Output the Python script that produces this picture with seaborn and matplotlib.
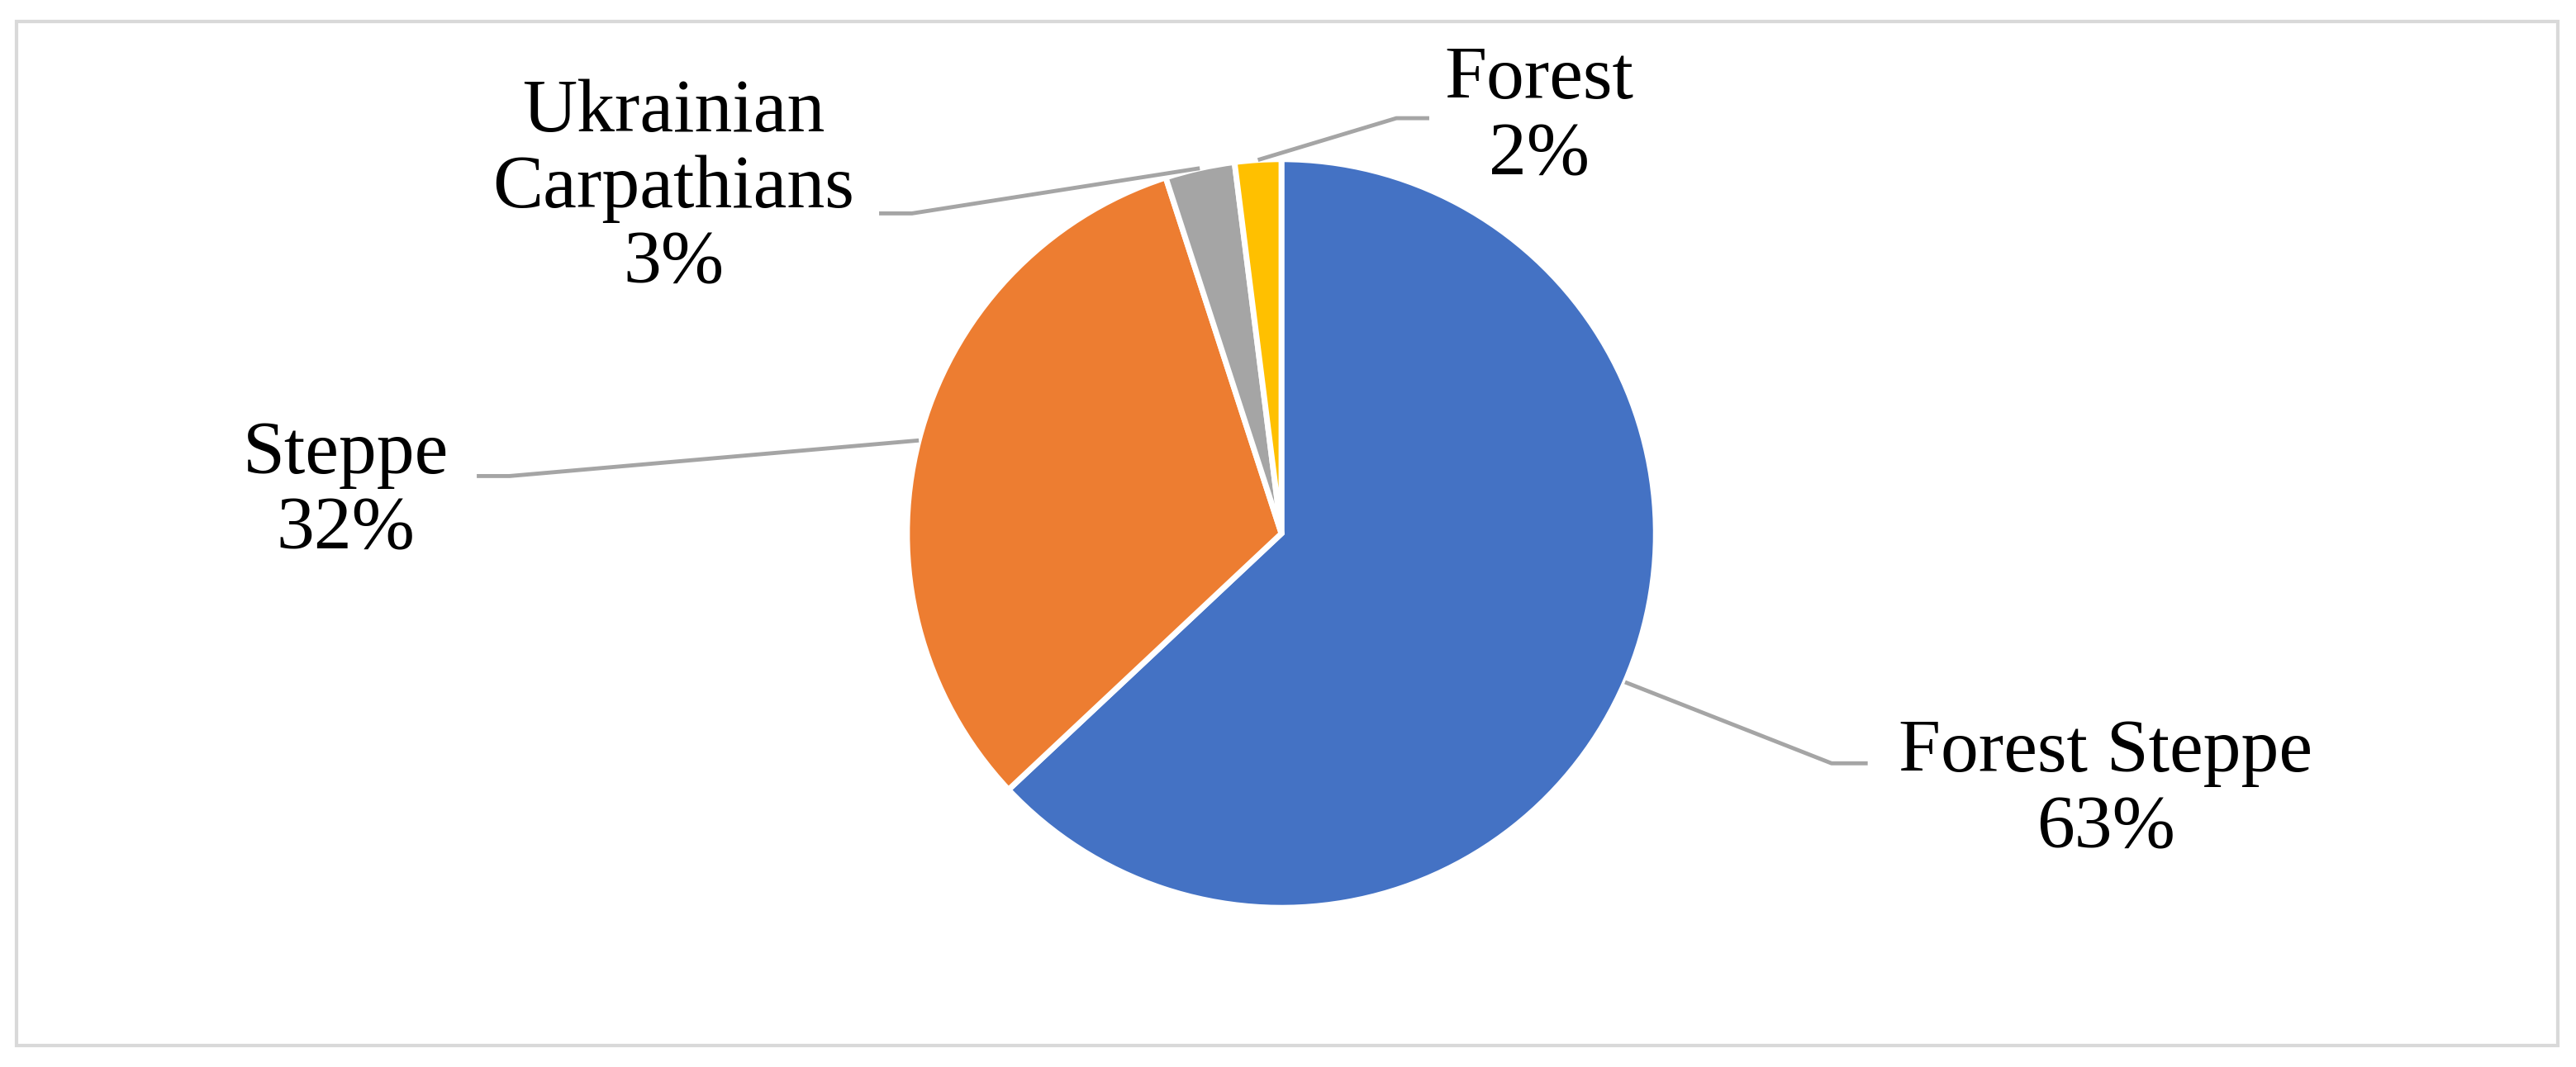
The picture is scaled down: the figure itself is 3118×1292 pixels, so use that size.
import numpy as np
import matplotlib
matplotlib.use("Agg")
import matplotlib.pyplot as plt
import seaborn as sns
from matplotlib.patches import Rectangle

sns.set_theme(style="white")
plt.rcParams['font.family'] = ['Liberation Serif', 'DejaVu Serif']

labels = ["Forest Steppe", "Steppe", "Ukrainian\nCarpathians", "Forest"]
values = [63, 32, 3, 2]
colors = ["#4472C4", "#ED7D31", "#A5A5A5", "#FFC000"]
# label text centres and horizontal leader ends (layout, display coords with y from top)
text_pos = [(1282, 482), (210, 300), (410, 115), (937, 72)]
elbow = [(1115, 465), (310, 290), (555, 130), (850, 72)]
stub = [(1137, 465), (290, 290), (535, 130), (870, 72)]

W, H = 1568, 650
fig = plt.figure(figsize=(31.18, 12.92), dpi=100)
ax = fig.add_axes([0, 0, 1, 1])
ax.set_xlim(0, W); ax.set_ylim(0, H); ax.axis("off")
fig.patches.append(Rectangle((10/W, 13/H), 1547/W, 624/H, transform=fig.transFigure,
                             fill=False, edgecolor="#D9D9D9", linewidth=3))

cx, cy, R = 780, H - 325, 228
wedges, _ = ax.pie(values, colors=colors, startangle=90, counterclock=False,
                   center=(cx, cy), radius=R, frame=True,
                   wedgeprops=dict(edgecolor="white", linewidth=5))
ax.set_xlim(0, W); ax.set_ylim(0, H); ax.axis("off"); ax.set_aspect("equal")

total = sum(values)
for w, lab, v, tp, e, s in zip(wedges, labels, values, text_pos, elbow, stub):
    mid = np.deg2rad((w.theta1 + w.theta2) / 2)
    x0, y0 = cx + R * np.cos(mid), cy + R * np.sin(mid)
    ax.plot([x0, e[0], s[0]], [y0, H - e[1], H - s[1]], color="#A5A5A5", lw=3.5,
            solid_capstyle="butt")
    ax.text(tp[0], H - tp[1], f"{lab}\n{round(v / total * 100)}%", ha="center",
            va="center", fontsize=66, color="black", linespacing=1.15)

fig.savefig("out.png", dpi=100, facecolor="white")
